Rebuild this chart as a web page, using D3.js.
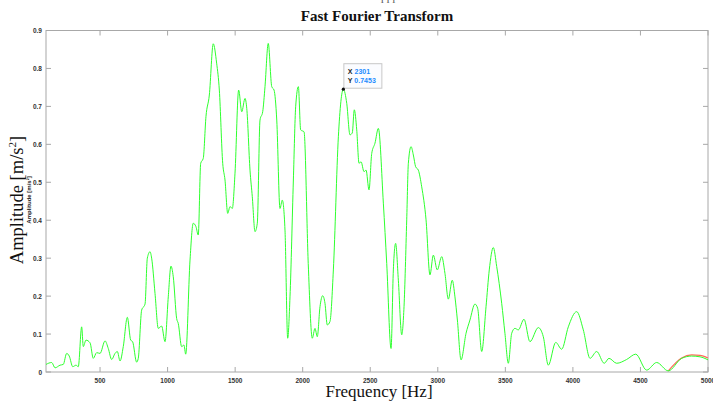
<!DOCTYPE html>
<html><head><meta charset="utf-8">
<script src="https://cdn.jsdelivr.net/npm/d3@7"></script>
<style>html,body{margin:0;padding:0;background:#fff;}svg{display:block;}</style>
</head><body>
<svg id="chart" width="713" height="404"></svg>
<script>
const freqHz = [100,142,167,204,228,253,272,298,322,339,364,376,396,426,450,475,500,537,561,586,611,628,648,672,702,727,741,771,783,808,833,850,870,882,907,931,956,981,1005,1025,1042,1067,1079,1104,1121,1134,1166,1190,1210,1227,1245,1264,1284,1309,1338,1363,1383,1408,1425,1445,1462,1479,1499,1526,1549,1573,1586,1610,1627,1647,1664,1684,1704,1721,1745,1771,1788,1808,1832,1849,1869,1889,1906,1931,1948,1968,1985,2010,2041,2071,2091,2108,2128,2148,2165,2182,2202,2227,2264,2301,2326,2350,2367,2382,2400,2417,2432,2454,2469,2491,2511,2535,2560,2597,2622,2654,2671,2688,2708,2733,2750,2770,2782,2802,2819,2836,2856,2881,2913,2942,2967,2996,3029,3053,3078,3107,3127,3145,3172,3209,3238,3275,3295,3325,3357,3381,3411,3436,3473,3497,3522,3547,3571,3596,3638,3682,3744,3781,3818,3873,3917,3966,4028,4077,4127,4176,4232,4267,4324,4398,4465,4546,4620,4706,4805,4879,4941,5000];
const amplitude = [0.020,0.025,0.011,0.018,0.020,0.049,0.042,0.014,0.018,0.014,0.119,0.067,0.084,0.077,0.036,0.051,0.049,0.082,0.062,0.033,0.049,0.054,0.029,0.067,0.144,0.084,0.080,0.026,0.036,0.163,0.179,0.300,0.317,0.300,0.207,0.115,0.121,0.080,0.198,0.279,0.251,0.141,0.128,0.067,0.071,0.047,0.295,0.392,0.383,0.361,0.550,0.563,0.673,0.730,0.865,0.814,0.743,0.550,0.506,0.418,0.436,0.431,0.524,0.743,0.686,0.721,0.695,0.532,0.462,0.370,0.392,0.664,0.686,0.752,0.866,0.752,0.743,0.664,0.431,0.453,0.374,0.089,0.198,0.506,0.699,0.752,0.638,0.633,0.286,0.089,0.115,0.093,0.172,0.201,0.181,0.124,0.133,0.269,0.620,0.7453,0.708,0.625,0.630,0.691,0.638,0.550,0.554,0.528,0.532,0.480,0.576,0.603,0.642,0.445,0.286,0.062,0.269,0.339,0.242,0.098,0.172,0.401,0.550,0.594,0.572,0.541,0.532,0.488,0.401,0.256,0.308,0.269,0.304,0.260,0.192,0.242,0.198,0.137,0.032,0.102,0.137,0.179,0.168,0.054,0.172,0.269,0.328,0.278,0.181,0.102,0.023,0.102,0.115,0.111,0.139,0.080,0.117,0.093,0.018,0.078,0.060,0.119,0.159,0.111,0.036,0.054,0.023,0.036,0.023,0.033,0.047,0.005,0.025,0.003,0.036,0.042,0.040,0.032];
// second series, only visible where it separates from the green one
const freqHz2 = [4706,4805,4879,4941,5000];
const amplitude2 = [0.003,0.037,0.045,0.044,0.037];
const xTicks = [500,1000,1500,2000,2500,3000,3500,4000,4500,5000];
const yTicks = [0,0.1,0.2,0.3,0.4,0.5,0.6,0.7,0.8,0.9];
const tipX = 2301, tipY = 0.7453;

const svg = d3.select("#chart");
const L = 46, R = 708, T = 30.5, B = 372;
const x = d3.scaleLinear().domain([100,5000]).range([L,R]);
const y = d3.scaleLinear().domain([0,0.9]).range([B,T]);
const axisCol = "#a8a8a8", labCol = "#333";

// partial clipped text at top
svg.append("text").attr("x",388).attr("y",2.5).attr("text-anchor","middle")
  .attr("font-family","Liberation Serif").attr("font-size",11).attr("fill","#555").text("ı ı ı");

svg.append("text").attr("x",377).attr("y",21).attr("text-anchor","middle")
  .attr("font-family","Liberation Serif").attr("font-weight","bold").attr("font-size",15)
  .attr("fill","#111").text("Fast Fourier Transform");

// box & ticks
const g = svg.append("g");
g.append("rect").attr("x",L).attr("y",T).attr("width",R-L).attr("height",B-T)
  .attr("fill","none").attr("stroke",axisCol).attr("stroke-width",1);
const tk = 5;
xTicks.forEach(t=>{
  g.append("line").attr("x1",x(t)).attr("x2",x(t)).attr("y1",B).attr("y2",B-tk).attr("stroke",axisCol);
  g.append("line").attr("x1",x(t)).attr("x2",x(t)).attr("y1",T).attr("y2",T+tk).attr("stroke",axisCol);
  g.append("text").attr("x",x(t)).attr("y",B+10.5).attr("text-anchor","middle")
    .attr("font-family","Liberation Sans").attr("font-weight","bold").attr("font-size",6.5)
    .attr("fill",labCol).text(t);
});
yTicks.forEach(t=>{
  g.append("line").attr("x1",L).attr("x2",L+tk).attr("y1",y(t)).attr("y2",y(t)).attr("stroke",axisCol);
  g.append("line").attr("x1",R).attr("x2",R-tk).attr("y1",y(t)).attr("y2",y(t)).attr("stroke",axisCol);
  g.append("text").attr("x",L-4).attr("y",y(t)+2.5).attr("text-anchor","end")
    .attr("font-family","Liberation Sans").attr("font-weight","bold").attr("font-size",6.5)
    .attr("fill",labCol).text(t===0?"0":String(t));
});

// axis labels
svg.append("text").attr("x",379).attr("y",397).attr("text-anchor","middle")
  .attr("font-family","Liberation Serif").attr("font-size",17).attr("fill","#111").text("Frequency [Hz]");
const yl = svg.append("text").attr("transform","translate(23,200) rotate(-90)").attr("text-anchor","middle")
  .attr("font-family","Liberation Serif").attr("font-size",18.5).attr("fill","#111");
yl.append("tspan").text("Amplitude [m/s");
yl.append("tspan").attr("font-size",11).attr("dy",-7).text("2");
yl.append("tspan").attr("dy",7).text("]");
svg.append("text").attr("transform","translate(30.5,200) rotate(-90)").attr("text-anchor","middle")
  .attr("font-family","Liberation Sans").attr("font-weight","bold").attr("font-size",6).attr("fill","#222").text("Amplitude [m/s²]");

// lines
const line = d3.line().x(d=>x(d[0])).y(d=>y(d[1])).curve(d3.curveMonotoneX);
svg.append("path").datum(freqHz2.map((f,i)=>[f,amplitude2[i]])).attr("d",line)
  .attr("fill","none").attr("stroke","#ff6b5a").attr("stroke-width",1.2);
svg.append("path").datum(freqHz.map((f,i)=>[f,amplitude[i]])).attr("d",line)
  .attr("fill","none").attr("stroke","#2eff2e").attr("stroke-width",1);

// datatip
const px = x(tipX), py = y(tipY);
const tip = svg.append("g");
tip.append("rect").attr("x",px+0.5).attr("y",py-25.5).attr("width",38).attr("height",24.5)
  .attr("fill","#fbfcff").attr("stroke","#c8c8c8").attr("stroke-width",1);
tip.append("text").attr("x",px+4.5).attr("y",py-15.5).attr("font-family","Liberation Sans").attr("font-weight","bold")
  .attr("font-size",7).attr("fill","#222").text("X ")
  .append("tspan").attr("fill","#1e8cff").text(String(tipX));
tip.append("text").attr("x",px+4.5).attr("y",py-6.5).attr("font-family","Liberation Sans").attr("font-weight","bold")
  .attr("font-size",7).attr("fill","#222").text("Y ")
  .append("tspan").attr("fill","#1e8cff").text(String(tipY));
tip.append("circle").attr("cx",px).attr("cy",py).attr("r",1.6).attr("fill","#111");
</script>
</body></html>
